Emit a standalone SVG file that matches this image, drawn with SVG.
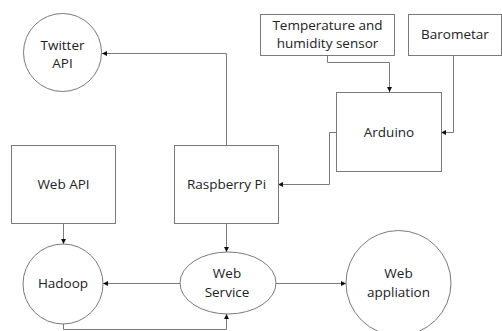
<svg xmlns="http://www.w3.org/2000/svg" width="502" height="331" viewBox="0 0 502 331">
<defs>
<style>
.s{fill:#fff;stroke:#7a7a7a;stroke-width:1}
.c{fill:none;stroke:#7a7a7a;stroke-width:1}
text{font-family:"Open Sans","Liberation Sans",sans-serif;font-size:13.5px;fill:#222;text-anchor:middle}
</style>
<marker id="a" viewBox="0 0 6 6" refX="6" refY="3" markerWidth="5" markerHeight="5" orient="auto" markerUnits="userSpaceOnUse">
<path d="M0,0 L6,3 L0,6 Z" fill="#111"/>
</marker>
</defs>
<rect width="502" height="331" fill="#fff"/>
<g id="connectors">
<polyline class="c" points="226.5,145 226.5,53.5 102,53.5" marker-end="url(#a)"/>
<polyline class="c" points="327.5,55 327.5,62.5 389.5,62.5 389.5,92" marker-end="url(#a)"/>
<polyline class="c" points="453.5,55 453.5,132.5 441,132.5" marker-end="url(#a)"/>
<polyline class="c" points="336,132.5 329.5,132.5 329.5,184.5 278,184.5" marker-end="url(#a)"/>
<polyline class="c" points="63.5,223 63.5,244" marker-end="url(#a)"/>
<polyline class="c" points="226.5,223 226.5,252" marker-end="url(#a)"/>
<polyline class="c" points="180,283.5 103,283.5" marker-end="url(#a)"/>
<polyline class="c" points="276,283.5 346,283.5" marker-end="url(#a)"/>
<polyline class="c" points="63.5,324 63.5,329.5 226.5,329.5 226.5,314" marker-end="url(#a)"/>
</g>
<g id="twitter"><circle class="s" cx="62.5" cy="52.5" r="39"/><text x="62.5" y="50">Twitter</text><text x="62.5" y="68">API</text></g>
<g id="temp"><rect class="s" x="260.5" y="14.5" width="134" height="41"/><text x="327.5" y="30">Temperature and</text><text x="327.5" y="48">humidity sensor</text></g>
<g id="barometar"><rect class="s" x="408.5" y="14.5" width="93" height="41"/><text x="455" y="39">Barometar</text></g>
<g id="arduino"><rect class="s" x="336.5" y="92.5" width="105" height="79"/><text x="389" y="137">Arduino</text></g>
<g id="webapi"><rect class="s" x="11.5" y="145.5" width="104" height="78"/><text x="63.5" y="189">Web API</text></g>
<g id="raspberry"><rect class="s" x="174.5" y="145.5" width="104" height="78"/><text x="226.5" y="189">Raspberry Pi</text></g>
<g id="hadoop"><circle class="s" cx="63" cy="284" r="40"/><text x="63" y="288">Hadoop</text></g>
<g id="webservice"><ellipse class="s" cx="228" cy="283" rx="48" ry="31"/><text x="227" y="278">Web</text><text x="227" y="297">Service</text></g>
<g id="webapp"><circle class="s" cx="398.5" cy="283" r="52.5"/><text x="398.5" y="278">Web</text><text x="398.5" y="297">appliation</text></g>
</svg>
